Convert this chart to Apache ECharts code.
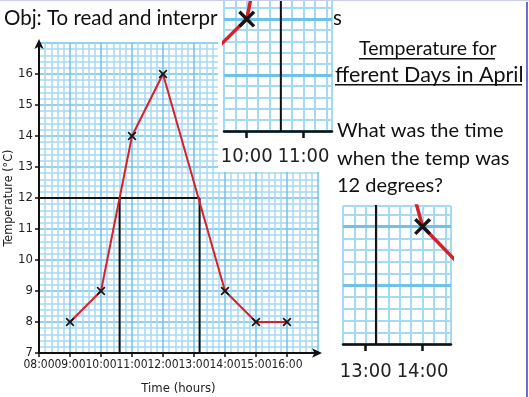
<!DOCTYPE html>
<html><head><meta charset="utf-8">
<script src="https://cdn.jsdelivr.net/npm/echarts@6/dist/echarts.min.js"></script>
<style>html,body{margin:0;padding:0;background:#fff}#c{width:529px;height:397px}</style>
</head><body><div id="c"></div>
<script>
// ---- data ----
const hours = [9, 10, 11, 12, 14, 15, 16];
const temps = [8, 9, 14, 16, 9, 8, 8];
const hourLabels = ['08:00','09:00','10:00','11:00','12:00','13:00','14:00','15:00','16:00'];
const firstHour = 8;
const readTemp = 12;
const readTimes = [10.6, 13.18];
const titleLines = ['Temperature for', 'fferent Days in April'];
const questionLines = ['What was the time', 'when the temp was', '12 degrees?'];

// ---- styles ----
const NARROW = '"Liberation Sans Narrow","DejaVu Sans Condensed",sans-serif';
const HAND = 'Lato,"Open Sans",sans-serif';
const RED = '#d8202a';
const MINOR = '#a6d9f2';
const MAJOR = '#6fc2e9';
const INK = '#111';
const XMARK = 'path://M0,1.4L1.4,0L5,3.6L8.6,0L10,1.4L6.4,5L10,8.6L8.6,10L5,6.4L1.4,10L0,8.6L3.6,5Z';

function hourLabel(v) {
  const r = Math.round(v);
  if (Math.abs(v - r) > 1e-6) return '';
  return hourLabels[r - firstHour] || '';
}

const chart = echarts.init(document.getElementById('c'), null, {renderer: 'canvas'});

const grids = [
  {left: 39, top: 43, width: 279, height: 310, outerBoundsMode: 'none', containLabel: false},
  {left: 224, top: 0, width: 108, height: 131, outerBoundsMode: 'none', containLabel: false},
  {left: 343, top: 206, width: 108, height: 138, outerBoundsMode: 'none', containLabel: false}
];

const insets = [
  {grid: 1, xmin: 9.6, xmax: 11.5, ymin: 7, ymax: 9.34, labelMargin: 16},
  {grid: 2, xmin: 12.6, xmax: 14.5, ymin: 7, ymax: 9.35, labelMargin: 18}
];

const xAxis = [{
  gridIndex: 0, type: 'value', position: 'bottom', min: 8, max: 17, interval: 1, z: 1,
  axisLine: {show: true, lineStyle: {color: INK, width: 2}, symbol: ['none', 'arrow'], symbolSize: [7, 10], symbolOffset: [0, 4]},
  axisTick: {show: true, length: 4, lineStyle: {color: INK, width: 1.5}},
  axisLabel: {formatter: hourLabel, fontFamily: NARROW, fontSize: 12, color: '#222', margin: 6, hideOverlap: false, showMinLabel: true, showMaxLabel: false},
  splitLine: {show: true, lineStyle: {color: MAJOR, width: 1.5}},
  minorTick: {show: false, splitNumber: 5},
  minorSplitLine: {show: true, lineStyle: {color: MINOR, width: 1.5}},
  name: 'Time (hours)', nameLocation: 'middle', nameGap: 29, nameMoveOverlap: false,
  nameTextStyle: {fontFamily: NARROW, fontSize: 13, color: '#222'}
}];
const yAxis = [{
  gridIndex: 0, type: 'value', position: 'left', min: 7, max: 17, interval: 1, z: 1,
  axisLine: {show: true, lineStyle: {color: INK, width: 2}, symbol: ['none', 'arrow'], symbolSize: [7, 10], symbolOffset: [0, 4]},
  axisTick: {show: true, length: 4, lineStyle: {color: INK, width: 1.5}},
  axisLabel: {fontFamily: NARROW, fontSize: 13, color: '#222', margin: 6, hideOverlap: false, showMinLabel: true, showMaxLabel: false},
  splitLine: {show: true, lineStyle: {color: MAJOR, width: 1.5}},
  minorTick: {show: false, splitNumber: 5},
  minorSplitLine: {show: true, lineStyle: {color: MINOR, width: 1.5}},
  name: 'Temperature (°C)', nameLocation: 'middle', nameGap: 24, nameRotate: 90, nameMoveOverlap: false,
  nameTextStyle: {fontFamily: NARROW, fontSize: 12.5, color: '#222'}
}];

insets.forEach(s => {
  // minor grid (every 12 minutes / 0.2 degree)
  xAxis.push({gridIndex: s.grid, type: 'value', position: 'bottom', offset: 0, min: s.xmin, max: s.xmax, interval: 0.2, z: 11,
    axisLine: {show: false}, axisTick: {show: false}, axisLabel: {show: false},
    splitLine: {show: true, lineStyle: {color: MINOR, width: 2}}});
  // major grid + visible axis
  xAxis.push({gridIndex: s.grid, type: 'value', position: 'bottom', offset: 0, min: s.xmin, max: s.xmax, splitNumber: 2, minInterval: 1, maxInterval: 1, z: 12,
    axisLine: {show: true, onZero: false, lineStyle: {color: INK, width: 2.5}},
    axisTick: {show: true, length: 7, lineStyle: {color: INK, width: 2.5}, customValues: hourLabels.map((_, i) => firstHour + i).filter(h => h > s.xmin && h < s.xmax)},
    axisLabel: {formatter: hourLabel, fontFamily: NARROW, fontSize: 20, color: '#222', margin: s.labelMargin, hideOverlap: false, showMinLabel: false, showMaxLabel: false},
    splitLine: {show: true, showMinLine: false, showMaxLine: false, lineStyle: {color: MAJOR, width: 3}}});
  yAxis.push({gridIndex: s.grid, type: 'value', position: 'left', offset: 0, min: s.ymin, max: s.ymax, interval: 0.2, z: 11,
    axisLine: {show: false}, axisTick: {show: false}, axisLabel: {show: false},
    splitLine: {show: true, lineStyle: {color: MINOR, width: 2}}});
  yAxis.push({gridIndex: s.grid, type: 'value', position: 'left', offset: 0, min: s.ymin, max: s.ymax, interval: 1, z: 12,
    axisLine: {show: false}, axisTick: {show: false}, axisLabel: {show: false},
    splitLine: {show: true, showMaxLine: false, lineStyle: {color: MAJOR, width: 3}}});
});

const series = [];
function addSeries(axisIdx, zBase, lw, msize) {
  // guide lines: horizontal at the reading temperature, verticals down to the axis
  const lastRead = Math.max(...readTimes);
  series.push({type: 'line', xAxisIndex: axisIdx, yAxisIndex: axisIdx, z: zBase, silent: true, animation: false,
    symbol: 'none', lineStyle: {color: INK, width: 2},
    data: [[firstHour, readTemp], [lastRead, readTemp]]});
  readTimes.forEach(t => series.push({type: 'line', xAxisIndex: axisIdx, yAxisIndex: axisIdx, z: zBase, silent: true, animation: false,
    symbol: 'none', lineStyle: {color: INK, width: 2},
    data: [[t, readTemp], [t, 7]]}));
  series.push({type: 'line', xAxisIndex: axisIdx, yAxisIndex: axisIdx, z: zBase + 1, silent: true, animation: false,
    data: hours.map((h, i) => [h, temps[i]]),
    lineStyle: {color: RED, width: lw},
    symbol: XMARK, symbolSize: msize, showAllSymbol: true,
    itemStyle: {color: '#151515'}});
}
addSeries(0, 2, 2, 9);
addSeries(2, 13, 3.5, 17);
addSeries(4, 13, 3.5, 17);

function txt(x, y, s, size, z) {
  return {type: 'text', x: x, y: y, z: z || 20, style: {text: s, fontFamily: HAND, fontSize: size, fill: INK, textVerticalAlign: 'middle'}};
}
const graphic = [
  {type: 'rect', z: 10, shape: {x: 218, y: 0, width: 116, height: 172}, style: {fill: '#fff'}},
  {type: 'rect', z: 10, shape: {x: 337, y: 198, width: 120, height: 194}, style: {fill: '#fff'}},
  txt(4, 18, 'Obj: To read and interpr', 20.5, 5),
  txt(333, 18, 's', 20.5, 5),
  txt(359, 49, titleLines[0], 19.5),
  {type: 'rect', z: 20, shape: {x: 359, y: 58, width: 136, height: 1.5}, style: {fill: INK}},
  txt(335, 75, titleLines[1], 21.5),
  {type: 'rect', z: 20, shape: {x: 335, y: 84, width: 187, height: 1.5}, style: {fill: INK}},
  txt(337, 131, questionLines[0], 20),
  txt(337, 159, questionLines[1], 20),
  txt(337, 186, questionLines[2], 20),
  {type: 'rect', z: 30, shape: {x: 526, y: 2, width: 2, height: 395}, style: {fill: '#6d6dcc'}},
  {type: 'rect', z: 30, shape: {x: 0, y: 0, width: 529, height: 1}, style: {fill: '#c9cde6'}}
];

chart.setOption({
  animation: false,
  backgroundColor: '#fff',
  grid: grids,
  xAxis: xAxis,
  yAxis: yAxis,
  series: series,
  graphic: graphic
});
</script></body></html>
